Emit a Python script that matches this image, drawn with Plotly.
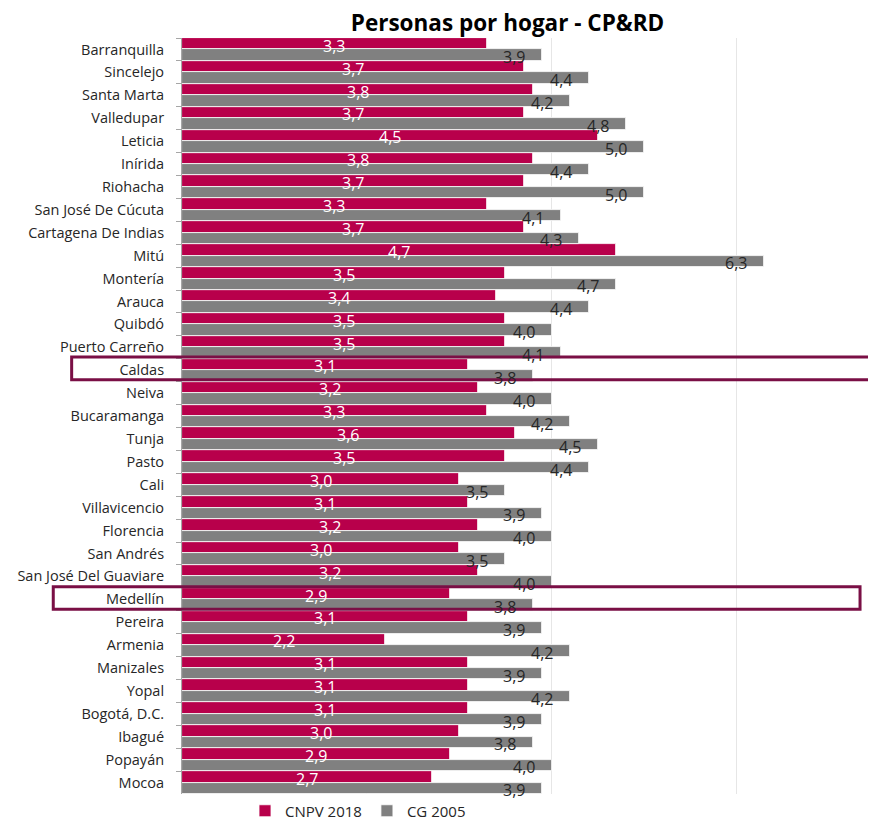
import plotly.graph_objects as go

categories = ["Barranquilla", "Sincelejo", "Santa Marta", "Valledupar", "Leticia", "Inírida",
              "Riohacha", "San José De Cúcuta", "Cartagena De Indias", "Mitú", "Montería",
              "Arauca", "Quibdó", "Puerto Carreño", "Caldas", "Neiva", "Bucaramanga", "Tunja",
              "Pasto", "Cali", "Villavicencio", "Florencia", "San Andrés",
              "San José Del Guaviare", "Medellín", "Pereira", "Armenia", "Manizales", "Yopal",
              "Bogotá, D.C.", "Ibagué", "Popayán", "Mocoa"]
cnpv_2018 = [3.3, 3.7, 3.8, 3.7, 4.5, 3.8, 3.7, 3.3, 3.7, 4.7, 3.5, 3.4, 3.5, 3.5, 3.1, 3.2, 3.3,
             3.6, 3.5, 3.0, 3.1, 3.2, 3.0, 3.2, 2.9, 3.1, 2.2, 3.1, 3.1, 3.1, 3.0, 2.9, 2.7]
cg_2005 = [3.9, 4.4, 4.2, 4.8, 5.0, 4.4, 5.0, 4.1, 4.3, 6.3, 4.7, 4.4, 4.0, 4.1, 3.8, 4.0, 4.2,
           4.5, 4.4, 3.5, 3.9, 4.0, 3.5, 4.0, 3.8, 3.9, 4.2, 3.9, 4.2, 3.9, 3.8, 4.0, 3.9]
highlighted = ["Caldas", "Medellín"]
title_text = "Personas por hogar - CP&RD"

PINK = "#B8004B"
GRAY = "#808080"
BOX = "#7A0F45"
FONT = "Open Sans"

# page body adds an 8px offset; figure sized to fit the window
W, H = 868, 814

def fmt(v):
    return f"{v:.1f}".replace(".", ",")

fig = go.Figure()
fig.add_trace(go.Bar(y=categories, x=cnpv_2018, name="CNPV 2018", orientation="h",
                     marker=dict(color=PINK, line=dict(color="white", width=0.8))))
fig.add_trace(go.Bar(y=categories, x=cg_2005, name="CG 2005", orientation="h",
                     marker=dict(color=GRAY, line=dict(color="white", width=0.8))))

annotations = []
for i, (a, b) in enumerate(zip(cnpv_2018, cg_2005)):
    annotations.append(dict(x=a / 2, y=i - 0.25, xref="x", yref="y", text=fmt(a),
                            showarrow=False, xanchor="center", yanchor="middle", yshift=-2,
                            font=dict(family=FONT, size=16, color="white")))
    annotations.append(dict(x=b, y=i + 0.25, xref="x", yref="y", text=fmt(b),
                            showarrow=False, xanchor="right", yanchor="middle", xshift=-15,
                            yshift=-2, font=dict(family=FONT, size=16, color="#262626")))

shapes = []
box_ext = {"Caldas": (-0.159, 1.02, -0.58, 0.42), "Medellín": (-0.1855, 0.977, -0.55, 0.44)}
for name in highlighted:
    idx = categories.index(name)
    x0, x1, d0, d1 = box_ext[name]
    shapes.append(dict(type="rect", xref="paper", yref="y", x0=x0, x1=x1,
                       y0=idx + d0, y1=idx + d1, line=dict(color=BOX, width=3),
                       fillcolor="rgba(0,0,0,0)", layer="above"))

n = len(categories)
fig.update_layout(
    width=W, height=H,
    margin=dict(l=174, r=0, t=30, b=28, autoexpand=False),
    paper_bgcolor="white", plot_bgcolor="white",
    barmode="group", bargap=0, bargroupgap=0,
    font=dict(family=FONT, color="#262626"),
    title=dict(text=f"<b>{title_text}</b>", x=499.5 / W, xref="container", xanchor="center",
               y=1 - 15 / H, yref="container", yanchor="middle",
               font=dict(family=FONT, size=22.5, color="black")),
    xaxis=dict(range=[0, 7.51], dtick=2, showgrid=True, gridcolor="#E6E6E6", gridwidth=1,
               showticklabels=False, zeroline=False, showline=False, ticks="", automargin=False),
    yaxis=dict(range=[n - 0.5, -0.5], showline=True, linecolor="#A6A6A6", linewidth=1,
               ticks="outside", ticklen=5, tickcolor="#A6A6A6", tickson="boundaries",
               ticklabelstandoff=14, tickfont=dict(family=FONT, size=14.5, color="#262626"),
               showgrid=False, automargin=False),
    legend=dict(orientation="h", xref="container", x=237 / W, xanchor="left",
                yref="container", y=1 - 803 / H, yanchor="middle",
                font=dict(family=FONT, size=15, color="#262626"), traceorder="normal"),
    annotations=annotations,
    shapes=shapes,
)

fig.write_html("out.html")
